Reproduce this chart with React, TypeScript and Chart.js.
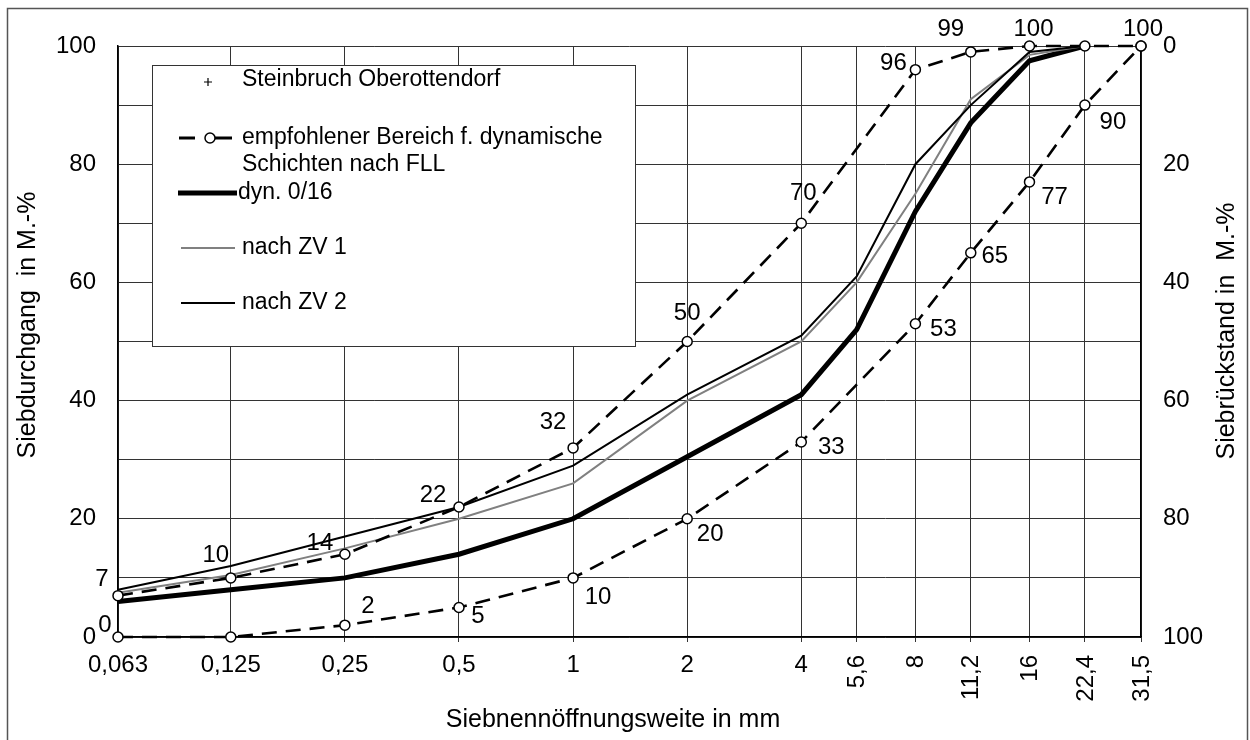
import React, { useEffect, useRef } from "react";
import { Chart, registerables } from "chart.js";

Chart.register(...registerables);

const FONT = "'Liberation Sans', Arial, sans-serif";

// Sieve sizes (mm) and their printed labels
const sieveSizes = [0.063, 0.125, 0.25, 0.5, 1, 2, 4, 5.6, 8, 11.2, 16, 22.4, 31.5];
const sieveLabels = ["0,063", "0,125", "0,25", "0,5", "1", "2", "4", "5,6", "8", "11,2", "16", "22,4", "31,5"];
const firstRotatedLabel = 7;

// FLL recommended range (passing, M.-%)
const upperLimit = [7, 10, 14, 22, 32, 50, 70, null, 96, 99, 100, 100, 100];
const lowerLimit = [0, 0, 2, 5, 10, 20, 33, null, 53, 65, 77, 90, 100];

// Measured grading curves (passing, M.-%)
const dyn016 = [6, 8, 10, 14, 20, 30.5, 41, 52, 72, 87, 97.5, 100, null];
const nachZV1 = [7.5, 10.5, 15, 20, 26, 40, 50, 60, 75, 91, 98.5, 100, null];
const nachZV2 = [8, 12, 17, 22, 29, 41, 51, 61, 80, 90, 99, 100, null];

// which point values are printed next to the FLL points
const upperLabelShown = [true, true, true, true, true, true, true, false, true, true, true, false, true];
const lowerLabelShown = [true, false, true, true, true, true, true, false, true, true, true, true, false];
const upperLabelOffsets: [number, number][] = [
  [-16, -16], [-15, -23], [-25, -11], [-26, -12], [-20, -26], [0, -28], [2, -30],
  [0, 0], [-22, -6], [-20, -23], [4, -17], [0, 0], [2, -17],
];
const lowerLabelOffsets: [number, number][] = [
  [-13, -12], [0, 0], [23, -19], [19, 9], [25, 19], [23, 16], [30, 5],
  [0, 0], [28, 6], [24, 4], [25, 15], [28, 17], [0, 0],
];

const legendTexts = [
  "Steinbruch Oberottendorf",
  "empfohlener Bereich f. dynamische",
  "Schichten nach FLL",
  "dyn. 0/16",
  "nach ZV 1",
  "nach ZV 2",
];
const xTitle = "Siebnennöffnungsweite in mm";
const yTitle = "Siebdurchgang  in M.-%";
const y2Title = "Siebrückstand in  M.-%";

const toPoints = (arr: (number | null)[]) => sieveSizes.map((s, i) => ({ x: s, y: arr[i] }));

const overlayPlugin = {
  id: "overlay",
  beforeDraw(chart: any) {
    const ctx = chart.ctx;
    ctx.save();
    ctx.fillStyle = "#fff";
    ctx.fillRect(0, 0, chart.width, chart.height);
    ctx.restore();
  },
  afterDatasetsDraw(chart: any) {
    const { ctx, chartArea: ca, scales } = chart;
    const xs = scales.x;
    ctx.save();

    // ---- legend box ----
    const lx = ca.left + 34;
    const ly = ca.top + 19;
    const lw = 483;
    const lh = 281;
    ctx.fillStyle = "#fff";
    ctx.fillRect(lx, ly, lw, lh);
    ctx.strokeStyle = "#333";
    ctx.lineWidth = 1;
    ctx.strokeRect(lx + 0.5, ly + 0.5, lw, lh);

    ctx.font = `23px ${FONT}`;
    ctx.fillStyle = "#000";
    ctx.textAlign = "left";
    ctx.textBaseline = "middle";
    const tx = lx + 90;
    // entry 1: plus marker
    ctx.strokeStyle = "#000";
    ctx.lineWidth = 1.2;
    ctx.beginPath();
    ctx.moveTo(lx + 52, ly + 17);
    ctx.lineTo(lx + 60, ly + 17);
    ctx.moveTo(lx + 56, ly + 13);
    ctx.lineTo(lx + 56, ly + 21);
    ctx.stroke();
    ctx.fillText(legendTexts[0], tx, ly + 15);
    // entry 2: dashed with circle
    ctx.lineWidth = 3;
    ctx.beginPath();
    ctx.moveTo(lx + 27, ly + 73);
    ctx.lineTo(lx + 43, ly + 73);
    ctx.moveTo(lx + 63, ly + 73);
    ctx.lineTo(lx + 80, ly + 73);
    ctx.stroke();
    ctx.beginPath();
    ctx.arc(lx + 58, ly + 73, 5, 0, Math.PI * 2);
    ctx.fillStyle = "#fff";
    ctx.fill();
    ctx.lineWidth = 1.5;
    ctx.stroke();
    ctx.fillStyle = "#000";
    ctx.fillText(legendTexts[1], tx, ly + 73);
    ctx.fillText(legendTexts[2], tx, ly + 100);
    // entry 3: thick
    ctx.lineWidth = 5;
    ctx.beginPath();
    ctx.moveTo(lx + 26, ly + 128);
    ctx.lineTo(lx + 85, ly + 128);
    ctx.stroke();
    ctx.fillText(legendTexts[3], lx + 86, ly + 128);
    // entry 4: thin gray
    ctx.strokeStyle = "#808080";
    ctx.lineWidth = 2;
    ctx.beginPath();
    ctx.moveTo(lx + 29, ly + 183);
    ctx.lineTo(lx + 83, ly + 183);
    ctx.stroke();
    ctx.fillText(legendTexts[4], tx, ly + 183);
    // entry 5: black
    ctx.strokeStyle = "#000";
    ctx.lineWidth = 2;
    ctx.beginPath();
    ctx.moveTo(lx + 29, ly + 238);
    ctx.lineTo(lx + 83, ly + 238);
    ctx.stroke();
    ctx.fillText(legendTexts[5], tx, ly + 238);

    // ---- point value labels ----
    ctx.font = `24px ${FONT}`;
    ctx.textAlign = "center";
    ctx.textBaseline = "middle";
    const drawLabels = (dsIndex: number, values: (number | null)[], shown: boolean[], offsets: [number, number][]) => {
      const meta = chart.getDatasetMeta(dsIndex);
      values.forEach((v, i) => {
        if (v == null || !shown[i]) return;
        const el = meta.data[i];
        ctx.fillText(String(v), el.x + offsets[i][0], el.y + offsets[i][1]);
      });
    };
    drawLabels(0, upperLimit, upperLabelShown, upperLabelOffsets);
    drawLabels(1, lowerLimit, lowerLabelShown, lowerLabelOffsets);

    // ---- x tick labels ----
    sieveSizes.forEach((s, i) => {
      const px = xs.getPixelForValue(s);
      if (i < firstRotatedLabel) {
        ctx.textAlign = "center";
        ctx.fillText(sieveLabels[i], px, ca.bottom + 28);
      } else {
        ctx.save();
        ctx.translate(px + 1, ca.bottom + 18);
        ctx.rotate(-Math.PI / 2);
        ctx.textAlign = "right";
        ctx.fillText(sieveLabels[i], 0, 0);
        ctx.restore();
      }
    });

    // ---- axis titles ----
    ctx.font = `25px ${FONT}`;
    ctx.textAlign = "center";
    ctx.fillText(xTitle, 613, 720);
    ctx.save();
    ctx.translate(28, 325);
    ctx.rotate(-Math.PI / 2);
    ctx.fillText(yTitle, 0, 0);
    ctx.restore();
    ctx.save();
    ctx.translate(1227, 331);
    ctx.rotate(-Math.PI / 2);
    ctx.fillText(y2Title, 0, 0);
    ctx.restore();

    ctx.restore();
  },
  afterDraw(chart: any) {
    const ctx = chart.ctx;
    ctx.save();
    ctx.strokeStyle = "#555";
    ctx.lineWidth = 1.5;
    ctx.strokeRect(7.5, 8.5, 1240, 760);
    ctx.restore();
  },
};

export default function App() {
  const canvasRef = useRef<HTMLCanvasElement | null>(null);

  useEffect(() => {
    const canvas = canvasRef.current;
    if (!canvas) return;
    const dashed = {
      borderColor: "#000",
      borderWidth: 2.6,
      borderDash: [15, 9],
      pointRadius: 5,
      pointBackgroundColor: "#fff",
      pointBorderColor: "#000",
      pointBorderWidth: 1.5,
      spanGaps: true,
      tension: 0,
      clip: false,
    };
    const chart = new Chart(canvas, {
      type: "line",
      data: {
        datasets: [
          { label: "upper", data: toPoints(upperLimit), ...dashed } as any,
          { label: "lower", data: toPoints(lowerLimit), ...dashed } as any,
          { label: "nach ZV 2", data: toPoints(nachZV2), borderColor: "#000", borderWidth: 2, pointRadius: 0, clip: false } as any,
          { label: "nach ZV 1", data: toPoints(nachZV1), borderColor: "#808080", borderWidth: 2, pointRadius: 0, clip: false } as any,
          { label: "dyn. 0/16", data: toPoints(dyn016), borderColor: "#000", borderWidth: 5, pointRadius: 0, clip: false } as any,
        ],
      },
      options: {
        responsive: false,
        animation: false,
        devicePixelRatio: 1,
        layout: { padding: { top: 46, left: 0, right: 0, bottom: 0 } },
        plugins: { legend: { display: false }, tooltip: { enabled: false } },
        scales: {
          x: {
            type: "logarithmic",
            bounds: "data",
            min: sieveSizes[0],
            max: sieveSizes[sieveSizes.length - 1],
            afterBuildTicks: (s: any) => {
              s.ticks = sieveSizes.map((v) => ({ value: v }));
            },
            afterFit: (s: any) => {
              s.height = 103;
            },
            ticks: { display: false },
            grid: { color: "#333", lineWidth: 1, drawTicks: true, tickLength: 5 },
            border: { color: "#000", width: 1.5 },
          },
          y: {
            type: "linear",
            position: "left",
            min: 0,
            max: 100,
            afterFit: (s: any) => {
              s.width = 118;
            },
            ticks: {
              stepSize: 10,
              autoSkip: false,
              padding: 22,
              color: "#000",
              font: { size: 24, family: FONT },
              callback: (v: any) => (Number(v) % 20 === 0 ? String(v) : ""),
            },
            grid: { color: "#333", lineWidth: 1, drawTicks: false },
            border: { color: "#000", width: 1.5 },
          },
          y2: {
            type: "linear",
            position: "right",
            reverse: true,
            min: 0,
            max: 100,
            afterFit: (s: any) => {
              s.width = 109;
            },
            ticks: {
              stepSize: 20,
              padding: 22,
              color: "#000",
              font: { size: 24, family: FONT },
            },
            grid: { display: false, drawTicks: false },
            border: { color: "#000", width: 1.5 },
          },
        },
      } as any,
      plugins: [overlayPlugin],
    });
    return () => chart.destroy();
  }, []);

  return (
    <div style={{ position: "fixed", left: 0, top: 0, width: 1250, height: 740, background: "#fff" }}>
      <canvas ref={canvasRef} width={1250} height={740} style={{ display: "block" }} />
    </div>
  );
}
